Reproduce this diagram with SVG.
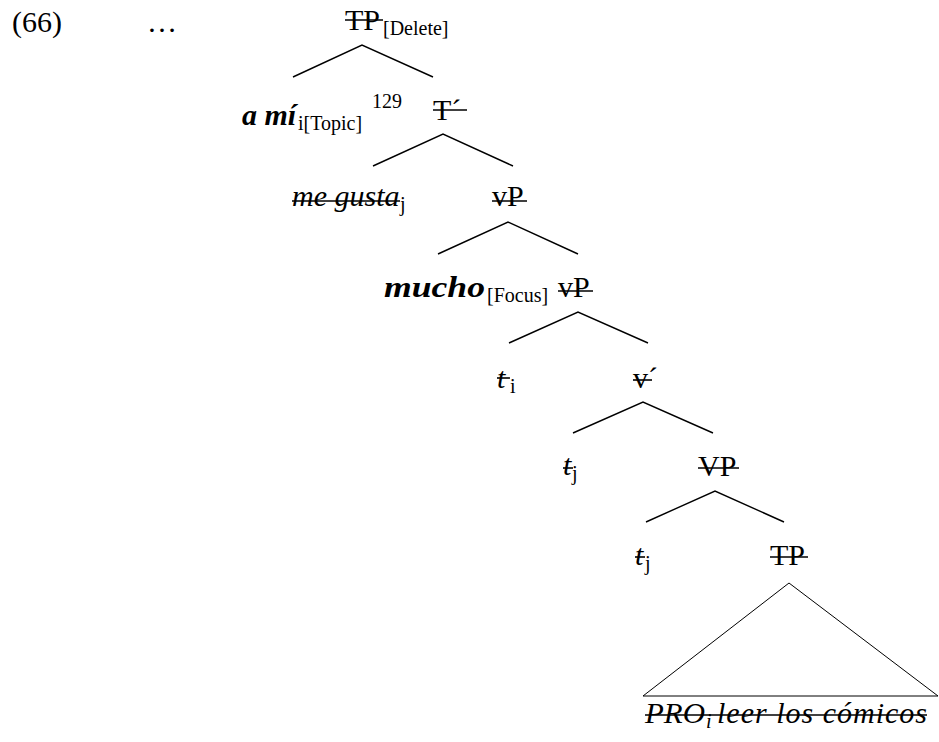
<svg xmlns="http://www.w3.org/2000/svg" width="939" height="742" viewBox="0 0 939 742">
<style>
text{font-family:"Liberation Serif","Times New Roman",serif;font-size:30px;fill:#000}
.s{font-size:20px}
.i{font-style:italic}
.bi{font-style:italic;font-weight:bold}
.e{stroke:#000;stroke-width:1.4;fill:none}
.st{stroke:#000;stroke-width:1.6}
.tri{stroke:#000;stroke-width:1;fill:none}
</style>
<rect width="939" height="742" fill="#fff"/>
<g id="label-66"><text x="12" y="32">(66)</text><text x="147" y="32">…</text></g>
<g id="n-TP-top"><text x="345" y="30">TP</text><text class="s" x="383" y="35">[Delete]</text><line class="st" x1="345" y1="20" x2="383" y2="20"/></g>
<g id="n-ami"><text class="bi" x="242" y="125">a mí</text><text class="s" x="298" y="130">i[Topic]</text><text class="s" x="372" y="108">129</text></g>
<g id="n-Tbar"><text x="433" y="120">T´</text><line class="st" x1="433" y1="110" x2="467" y2="110"/></g>
<g id="n-megusta"><text class="i" x="292" y="206">me gusta</text><text class="s" x="400" y="211">j</text><line class="st" x1="292" y1="201" x2="400" y2="201"/></g>
<g id="n-vP1"><text x="492" y="206">vP</text><line class="st" x1="492" y1="201" x2="527" y2="201"/></g>
<g id="n-mucho"><text class="bi" x="384" y="297" textLength="101" lengthAdjust="spacingAndGlyphs">mucho</text><text class="s" x="487" y="302">[Focus]</text></g>
<g id="n-vP2"><text x="558" y="297">vP</text><line class="st" x1="558" y1="291" x2="593" y2="291"/></g>
<g id="n-ti"><text class="i" x="497" y="388">t</text><text class="s" x="510" y="393">i</text><line class="st" x1="497" y1="378" x2="510" y2="378"/></g>
<g id="n-vbar"><text x="633" y="388">v´</text><line class="st" x1="633" y1="380" x2="652" y2="380"/></g>
<g id="n-tj1"><text class="i" x="563" y="475">t</text><text class="s" x="572" y="480">j</text><line class="st" x1="563" y1="468" x2="573" y2="468"/></g>
<g id="n-VP"><text x="698" y="476">VP</text><line class="st" x1="698" y1="468" x2="739" y2="468"/></g>
<g id="n-tj2"><text class="i" x="635" y="565">t</text><text class="s" x="645" y="570">j</text><line class="st" x1="635" y1="557" x2="645" y2="557"/></g>
<g id="n-TP-bot"><text x="770" y="565">TP</text><line class="st" x1="770" y1="557" x2="808" y2="557"/></g>
<g id="n-PRO"><text class="i" x="645" y="723" textLength="60" lengthAdjust="spacingAndGlyphs">PRO</text><text class="i s" x="706" y="728">i</text><text class="i" x="717" y="723" textLength="210" lengthAdjust="spacing">leer los cómicos</text><line class="st" x1="645" y1="715" x2="927" y2="715"/></g>
<g id="connectors">
<polyline class="e" points="293,77 362,45 433,77"/>
<polyline class="e" points="373,166 443,134 513,166"/>
<polyline class="e" points="438,254 508,222 578,254"/>
<polyline class="e" points="509,343 578,312 648,343"/>
<polyline class="e" points="573,433 643,402 713,433"/>
<polyline class="e" points="646,522 715,491 784,522"/>
<polygon class="tri" points="789,583 643,696 938,696"/>
</g>
</svg>
